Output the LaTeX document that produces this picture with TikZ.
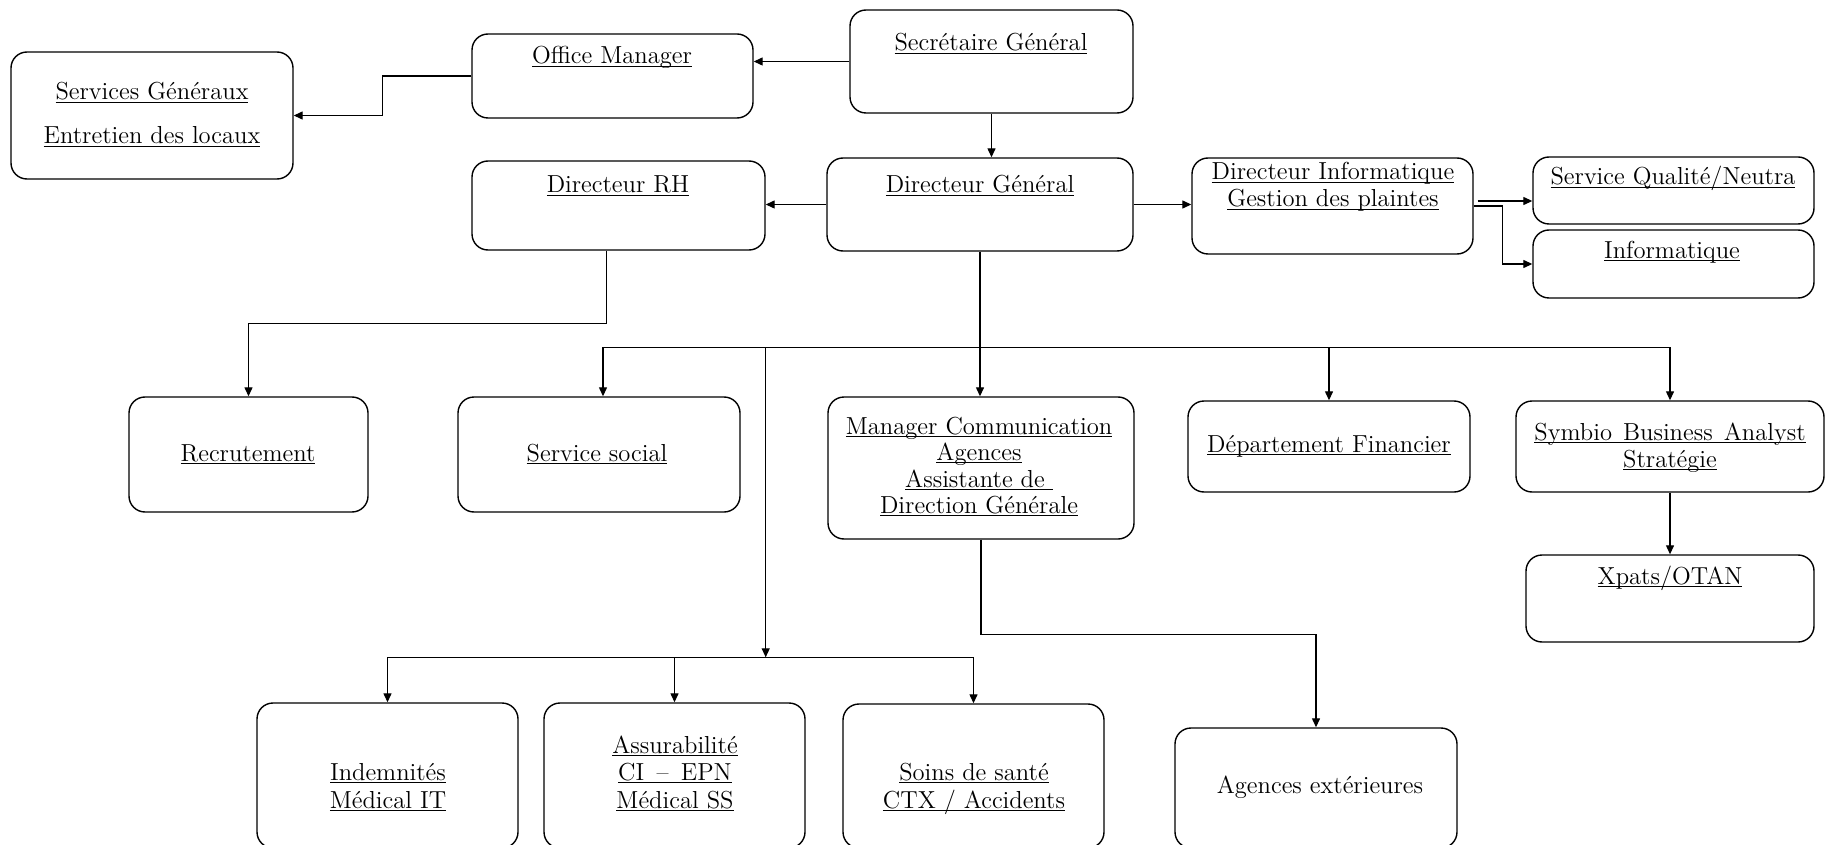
\documentclass[tikz,border=0pt]{standalone}
\usetikzlibrary{arrows.meta,fit,calc}
\newcommand\uln[1]{\underline{\smash{#1}}}
\newcommand\mybox[5]{\node[box, fit={(#2,#3) (#4,#5)}] (#1) {};}
\begin{document}
\begin{tikzpicture}[x=0.5pt,y=-0.5pt,
  box/.style={draw, rounded corners=8pt, line width=0.7pt, inner sep=0pt},
  txt/.style={anchor=base, inner sep=0pt, font=\fontsize{12.3}{14}\selectfont},
  conn/.style={line width=0.65pt},
  arr/.style={conn, -{Triangle[length=4.5pt,width=4pt]}},
  barr/.style={conn, {Triangle[length=4.5pt,width=4pt]}-{Triangle[length=4.5pt,width=4pt]}}]
\useasboundingbox[fill=white] (0,0) rectangle (1825,845);

% boxes
\mybox{sg}{850}{10}{1133}{113}
\mybox{om}{472}{34}{753}{118}
\mybox{sgx}{11}{52}{293}{179}
\mybox{drh}{472}{161}{765}{250}
\mybox{dg}{827}{158}{1133}{251}
\mybox{di}{1192}{158}{1473}{254}
\mybox{sq}{1533}{157}{1814}{224}
\mybox{inf}{1533}{230}{1814}{298}
\mybox{rec}{129}{397}{368}{512}
\mybox{ss}{458}{397}{740}{512}
\mybox{mc}{828}{397}{1134}{539}
\mybox{df}{1188}{401}{1470}{492}
\mybox{sym}{1516}{401}{1824}{492}
\mybox{xp}{1526}{555}{1814}{642}
\mybox{ind}{257}{703}{518}{848}
\mybox{ass}{544}{703}{805}{848}
\mybox{soins}{843}{704}{1104}{848}
\mybox{age}{1175}{728}{1457}{848}

% texts
\node[txt] (tsg) at (991,51) {\uln{Secrétaire Général}};
\node[txt] (tom) at (612,64) {\uln{Office Manager}};
\node[txt] (tsgx1) at (152,100) {\uln{Services Généraux}};
\node[txt] (tsgx2) at (152,144) {\uln{Entretien des locaux}};
\node[txt] (tdrh) at (618,193) {\uln{Directeur RH}};
\node[txt] (tdg) at (980,193) {\uln{Directeur Général}};
\node[txt] (tdi1) at (1333,180) {\uln{Directeur Informatique}};
\node[txt] (tdi2) at (1333,207) {\uln{Gestion des plaintes}};
\node[txt] (tsq) at (1673,185) {\uln{Service Qualité/Neutra}};
\node[txt] (tinf) at (1672,258) {\uln{Informatique}};
\node[txt] (trec) at (248,461) {\uln{Recrutement}};
\node[txt] (tss) at (597,461) {\uln{Service social}};
\node[txt] (tmc1) at (979,434) {\uln{Manager Communication}};
\node[txt] (tmc2) at (979,460) {\uln{Agences}};
\node[txt] (tmc3) at (979,487) {\uln{Assistante de\ }};
\node[txt] (tmc4) at (979,513) {\uln{Direction Générale}};
\node[txt] (tdf) at (1329,452) {\uln{Département Financier}};
\node[txt] (tsym1) at (1670,440) {\uln{Symbio\hspace{0.45em}Business\hspace{0.45em}Analyst}};
\node[txt] (tsym2) at (1670,467) {\uln{Stratégie}};
\node[txt] (txp) at (1670,584) {\uln{Xpats/OTAN}};
\node[txt] (tind1) at (388,780) {\uln{Indemnités}};
\node[txt] (tind2) at (388,808) {\uln{Médical IT}};
\node[txt] (tass1) at (675,753) {\uln{Assurabilité}};
\node[txt] (tass2) at (675,780) {\uln{CI\hspace{0.5em}–\hspace{0.5em}EPN}};
\node[txt] (tass3) at (675,808) {\uln{Médical SS}};
\node[txt] (tso1) at (974,780) {\uln{Soins de santé}};
\node[txt] (tso2) at (974,808) {\uln{CTX / Accidents}};
\node[txt] (tage) at (1320,793) {Agences extérieures};

% helper coordinates
\coordinate (bus) at ($(dg.south)+(0,96)$);
\coordinate (sub) at ($(ind.north)+(0,-45)$);
\coordinate (diu) at ([yshift=2.5pt]di.east);
\coordinate (ssin) at ([xshift=2pt]ss.north);

% connectors
\draw[arr] (sg.west) -- (sg.west -| om.east);
\draw[arr] (om.west) -- ++(-89,0) |- (sgx.east);
\draw[arr] (sg.south) -- (sg.south |- dg.north);
\draw[arr] (dg.west) -- (dg.west -| drh.east);
\draw[arr] (dg.east) -- (dg.east -| di.west);
\draw[arr] ([xshift=2pt]diu) -- (diu -| sq.west);
\draw[arr] (di.east) -- ++(29,0) |- (inf.west);
\draw[arr] ([xshift=-6pt]drh.south) -- ++(0,73) -| (rec.north);
\draw[arr] (dg.south) -- (dg.south |- mc.north);
\draw[barr] (ssin) |- (bus -| sym.north) -- (sym.north);
\draw[arr] (bus -| df.north) -- (df.north);
\draw[arr] (bus -| drh.east) -- (sub -| drh.east);
\draw[barr] (ind.north) |- (sub -| soins.north) -- (soins.north);
\draw[arr] (sub -| ass.north) -- (ass.north);
\draw[arr] (mc.south) -- ++(0,95) -| (age.north);
\draw[arr] (sym.south) -- (sym.south |- xp.north);
\end{tikzpicture}
\end{document}
